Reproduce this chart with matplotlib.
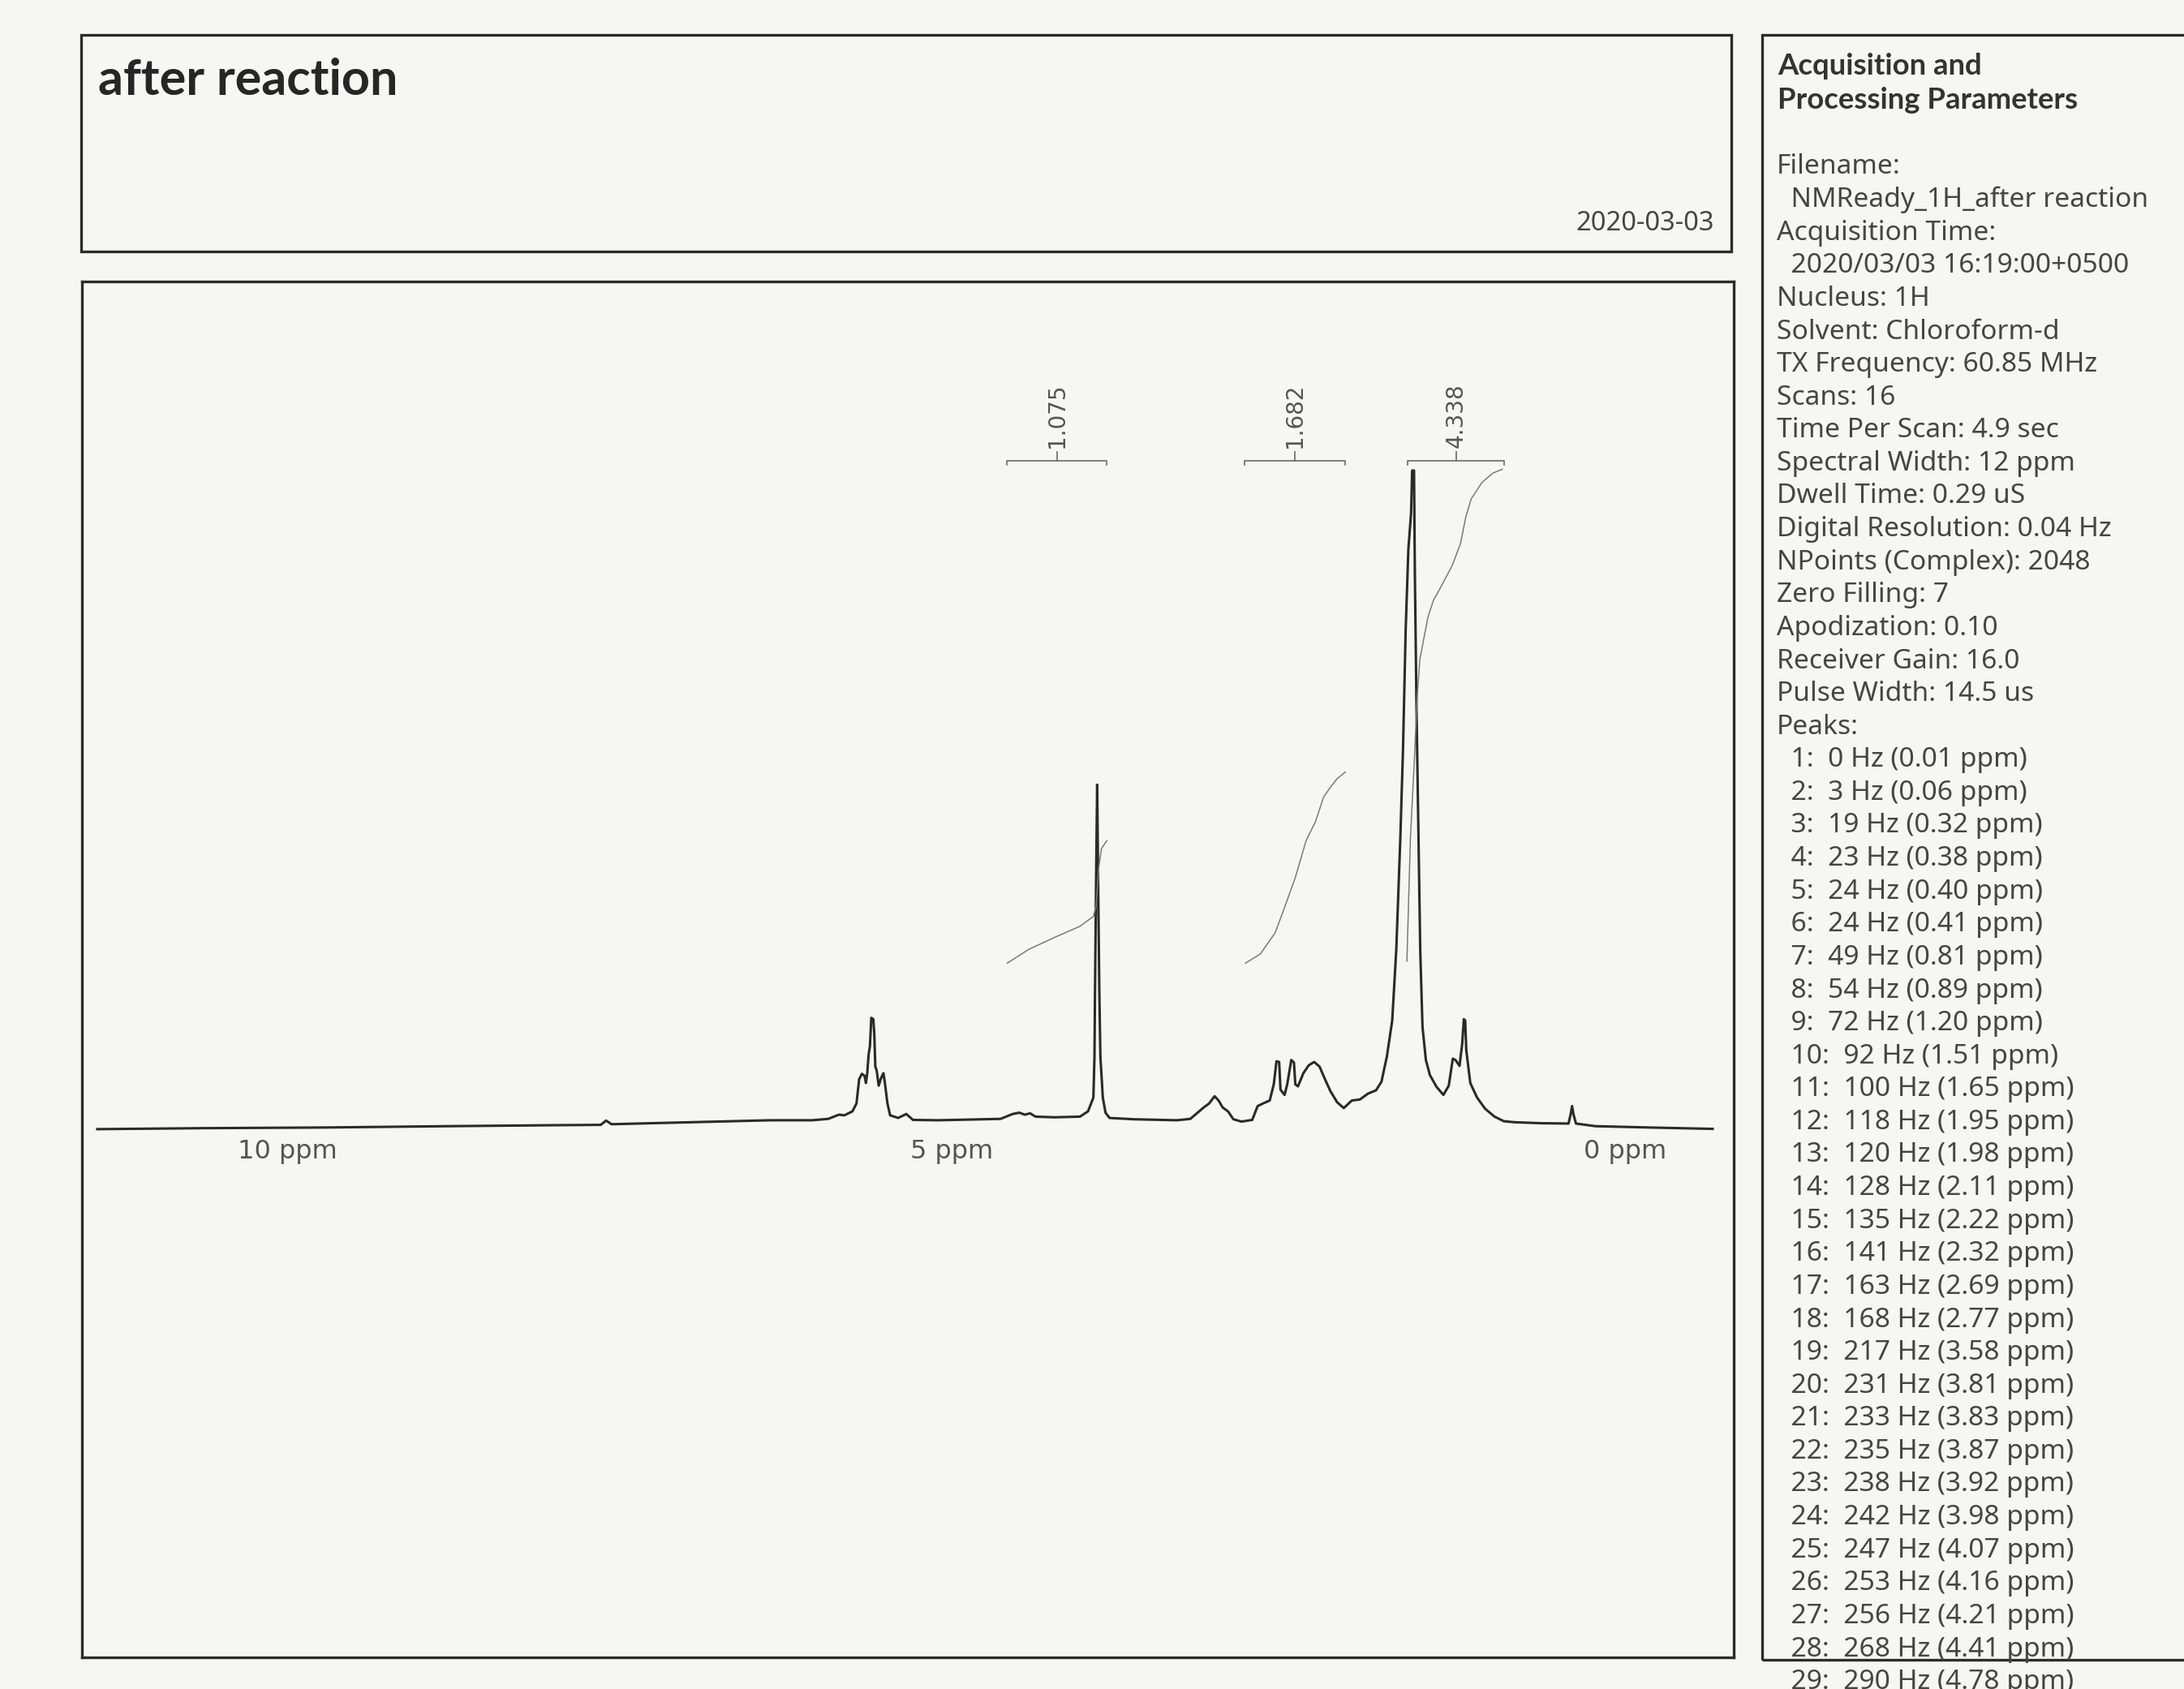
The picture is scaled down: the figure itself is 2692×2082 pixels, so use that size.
import numpy as np
import matplotlib
matplotlib.use('Agg')
import matplotlib.pyplot as plt
from matplotlib.patches import Rectangle

W, H = 2692, 2082
PAPER = '#f6f6f5'
INK = '#2b2b2b'
GREY = '#454545'

# 1H spectrum (ppm, intensity with the tallest peak = 100)
ppm = [11.00, 10.20, 9.31, 8.40, 7.60, 7.26, 7.22, 7.18, 6.60, 6.00,
       5.69, 5.57, 5.49, 5.45, 5.39, 5.36, 5.34, 5.32, 5.30, 5.29,
       5.28, 5.27, 5.26, 5.25, 5.235, 5.228, 5.22, 5.21, 5.195, 5.18,
       5.16, 5.15, 5.13, 5.11, 5.05, 4.99, 4.94, 4.75, 4.29, 4.20,
       4.15, 4.11, 4.07, 4.03, 3.89, 3.70, 3.64, 3.60, 3.592, 3.588,
       3.580, 3.572, 3.565, 3.556, 3.548, 3.53, 3.51, 3.48, 3.30, 3.10,
       2.98, 2.88, 2.78, 2.74, 2.70, 2.67, 2.64, 2.60, 2.56, 2.50,
       2.42, 2.38, 2.34, 2.29, 2.26, 2.24, 2.22, 2.21, 2.18, 2.16,
       2.13, 2.11, 2.10, 2.08, 2.04, 2.00, 1.96, 1.92, 1.88, 1.84,
       1.79, 1.74, 1.68, 1.62, 1.56, 1.50, 1.46, 1.42, 1.38, 1.35,
       1.32, 1.30, 1.28, 1.26, 1.24, 1.232, 1.218, 1.212, 1.20, 1.185,
       1.172, 1.155, 1.13, 1.10, 1.05, 1.00, 0.96, 0.93, 0.91, 0.88,
       0.86, 0.848, 0.838, 0.83, 0.80, 0.75, 0.69, 0.62, 0.55, 0.47,
       0.27, 0.07, 0.054, 0.044, 0.034, 0.015, -0.13, -0.53, -1.00]
intensity = [0.0, 0.15, 0.25, 0.45, 0.6, 0.65, 1.3, 0.75, 1.05, 1.35,
             1.35, 1.56, 2.2, 2.1, 2.7, 3.9, 7.6, 8.4, 8.1, 7.0,
             8.5, 11.3, 12.6, 16.9, 16.7, 14.6, 9.5, 8.9, 6.6, 7.6,
             8.5, 7.2, 3.9, 2.1, 1.7, 2.3, 1.4, 1.35, 1.56, 2.3,
             2.5, 2.2, 2.4, 1.9, 1.8, 1.9, 2.7, 4.8, 11.0, 21.0,
             38.0, 52.3, 38.0, 21.0, 11.0, 4.8, 2.5, 1.7, 1.5, 1.4,
             1.35, 1.56, 3.3, 3.9, 5.0, 4.35, 3.3, 2.7, 1.5, 1.15,
             1.4, 3.5, 3.9, 4.35, 6.8, 10.3, 10.2, 6.0, 5.2, 6.8,
             10.5, 10.1, 6.8, 6.5, 8.5, 9.7, 10.2, 9.5, 7.6, 5.8,
             4.1, 3.2, 4.35, 4.5, 5.4, 5.9, 7.2, 11.0, 16.5, 27.2,
             44.1, 57.6, 75.9, 88.1, 93.5, 100.0, 100.0, 84.7, 64.4, 44.1,
             27.2, 15.5, 10.5, 8.2, 6.4, 5.2, 6.6, 10.7, 10.5, 9.6,
             13.0, 16.7, 16.5, 12.0, 7.0, 4.8, 3.1, 1.9, 1.2, 1.05,
             0.9, 0.85, 2.3, 3.5, 2.3, 0.85, 0.45, 0.25, 0.04]

# integral traces
int1_ppm = [4.24, 4.08, 3.89, 3.70, 3.60, 3.58, 3.56, 3.54, 3.50]
int1_val = [25.2, 27.3, 29.1, 30.8, 32.3, 33.9, 39.7, 42.6, 43.8]
int2_ppm = [2.47, 2.36, 2.25, 2.19, 2.10, 2.02, 1.95, 1.89, 1.84, 1.79, 1.73]
int2_val = [25.2, 26.6, 29.8, 33.1, 38.2, 43.8, 46.7, 50.4, 51.9, 53.2, 54.2]
int3_ppm = [1.271, 1.245, 1.215, 1.195, 1.175, 1.114, 1.074, 1.014, 0.934,
            0.873, 0.833, 0.793, 0.713, 0.633, 0.562]
int3_val = [25.5, 44.1, 56.3, 65.5, 71.3, 77.8, 80.3, 82.5, 85.6,
            88.9, 93.0, 95.7, 98.2, 99.6, 100.2]

# integration regions and their values
region_start = [4.241, 2.476, 1.265]
region_end = [3.503, 1.729, 0.548]
region_labels = ['1.075', '1.682', '4.338']

tick_ppm = [10, 5, 0]
tick_labels = ['10 ppm', '5 ppm', '0 ppm']

title = 'after reaction'
date = '2020-03-03'
params_head = ['Acquisition and', 'Processing Parameters']
params = ['Filename:',
          '  NMReady_1H_after reaction',
          'Acquisition Time:',
          '  2020/03/03 16:19:00+0500',
          'Nucleus: 1H',
          'Solvent: Chloroform-d',
          'TX Frequency: 60.85 MHz',
          'Scans: 16',
          'Time Per Scan: 4.9 sec',
          'Spectral Width: 12 ppm',
          'Dwell Time: 0.29 uS',
          'Digital Resolution: 0.04 Hz',
          'NPoints (Complex): 2048',
          'Zero Filling: 7',
          'Apodization: 0.10',
          'Receiver Gain: 16.0',
          'Pulse Width: 14.5 us',
          'Peaks:']
peak_hz = [0, 3, 19, 23, 24, 24, 49, 54, 72, 92, 100, 118, 120, 128, 135,
           141, 163, 168, 217, 231, 233, 235, 238, 242, 247, 253, 256, 268, 290]
peak_ppm = [0.01, 0.06, 0.32, 0.38, 0.40, 0.41, 0.81, 0.89, 1.20, 1.51, 1.65,
            1.95, 1.98, 2.11, 2.22, 2.32, 2.69, 2.77, 3.58, 3.81, 3.83, 3.87,
            3.92, 3.98, 4.07, 4.16, 4.21, 4.41, 4.78]


def fx(x):
    return x / W


def fy(y):
    return 1 - y / H


fig = plt.figure(figsize=(W / 100, H / 100), dpi=100, facecolor=PAPER)
UI = ['Noto Sans', 'DejaVu Sans']
BOLD = ['Lato', 'DejaVu Sans']

# header box
fig.add_artist(Rectangle((fx(100), fy(310)), fx(2134) - fx(100), fy(43) - fy(310),
                         transform=fig.transFigure, fill=False, ec=INK, lw=2.4))
fig.text(fx(121), fy(117), title, family=BOLD, fontsize=44, fontweight='bold',
         color='#262626', va='baseline', ha='left')
fig.text(fx(2113), fy(275), date, family=UI, fontsize=23.5, color=GREY,
         va='center', ha='right')

# parameters box (runs off the right edge of the page)
fig.add_artist(Rectangle((fx(2172), fy(2046)), fx(2760) - fx(2172), fy(43) - fy(2046),
                         transform=fig.transFigure, fill=False, ec=INK, lw=2.4))
for i, s in enumerate(params_head):
    fig.text(fx(2191), fy(81 + 43 * i), s, family=BOLD, fontsize=26.3,
             fontweight='bold', color='#333333', va='center', ha='left')
lines = params + [f'  {i + 1}:  {hz} Hz ({p:.2f} ppm)'
                  for i, (hz, p) in enumerate(zip(peak_hz, peak_ppm))]
for i, s in enumerate(lines):
    fig.text(fx(2190), fy(206 + 40.6 * i), s, family=UI, fontsize=24.2,
             color=GREY, va='center', ha='left')

# spectrum
ax = fig.add_axes([fx(101), fy(2043), fx(2137) - fx(101), fy(347) - fy(2043)])
ax.set_facecolor(PAPER)
ax.set_xlim(11.114, -1.157)
ax.set_ylim(-80.2, 128.7)
ax.set_xticks([])
ax.set_yticks([])
for sp in ax.spines.values():
    sp.set_color(INK)
    sp.set_linewidth(2.4)

ax.plot(ppm, intensity, color='#2a2a2a', lw=2.2)

for xs, ys in [(int1_ppm, int1_val), (int2_ppm, int2_val), (int3_ppm, int3_val)]:
    ax.plot(xs, ys, color='#7a7a7a', lw=1.1)

for a, b, lab in zip(region_start, region_end, region_labels):
    ax.plot([a, a, b, b], [100.9, 101.5, 101.5, 100.9], color='#6a6a6a', lw=1.2)
    mid = (a + b) / 2
    ax.plot([mid, mid], [101.5, 102.8], color='#6a6a6a', lw=1.2)
    ax.text(mid, 103.4, lab, rotation=90, ha='center', va='bottom',
            fontsize=20, color='#555555', family='DejaVu Sans')

for t, lab in zip(tick_ppm, tick_labels):
    ax.annotate(lab, (t, -3.45), xytext=(7, 0), textcoords='offset pixels',
                ha='left', va='center', fontsize=23, color='#555555',
                family='DejaVu Sans')

fig.savefig('out.png', dpi=100, facecolor=PAPER)
